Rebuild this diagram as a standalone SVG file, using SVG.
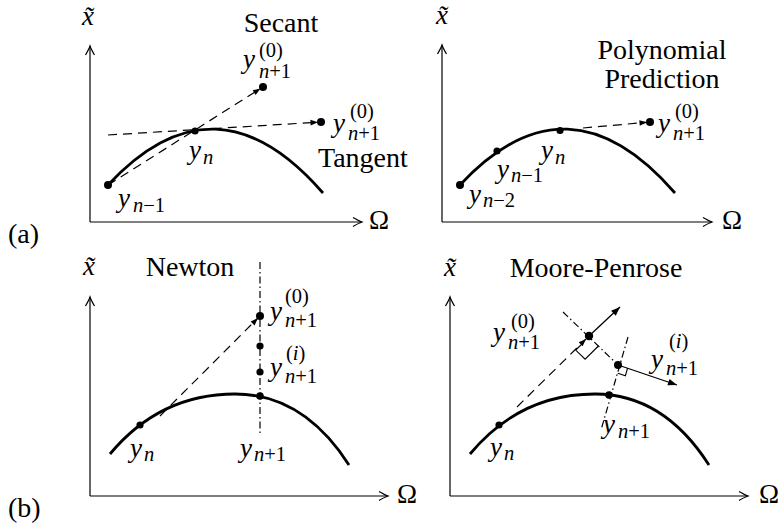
<svg xmlns="http://www.w3.org/2000/svg" width="780" height="525" viewBox="0 0 780 525">
<defs>
<style>
.bg{fill:#fff}
.ax{fill:none;stroke:#000;stroke-width:1.2;marker-end:url(#axh)}
.cv{fill:none;stroke:#000;stroke-width:2.8;stroke-linecap:butt}
.ds{fill:none;stroke:#000;stroke-width:1.2;stroke-dasharray:9 6;marker-end:url(#ah)}
.dd{fill:none;stroke:#000;stroke-width:1.2;stroke-dasharray:7 3 1.5 3}
.sa{fill:none;stroke:#000;stroke-width:1.3;marker-end:url(#ah2)}
.ra{fill:none;stroke:#000;stroke-width:1.1}
.pt{fill:#000}
text{font-family:'Liberation Serif','Times New Roman',serif;fill:#000}
.m{font-style:italic;font-size:27px}
.s{font-size:20.5px}
.t{font-size:28px}
.o{font-size:27px}
</style>
<marker id="axh" viewBox="-10 -6 12 12" refX="0" refY="0" markerWidth="12" markerHeight="12" markerUnits="userSpaceOnUse" orient="auto" overflow="visible">
<path d="M-9,-4.5 Q-3,-1 0,0 Q-3,1 -9,4.5" fill="none" stroke="#000" stroke-width="1.2"/>
</marker>
<marker id="ah" viewBox="-9 -4 10 8" refX="0" refY="0" markerWidth="10" markerHeight="8" markerUnits="userSpaceOnUse" orient="auto" overflow="visible">
<path d="M-7.5,-2.8 L0,0 L-7.5,2.8 Z" fill="#000"/>
</marker>
<marker id="ah2" viewBox="-10 -5 11 10" refX="0" refY="0" markerWidth="11" markerHeight="10" markerUnits="userSpaceOnUse" orient="auto" overflow="visible">
<path d="M-9,-3.4 L0,0 L-9,3.4 Z" fill="#000"/>
</marker>
</defs>
<rect class="bg" x="0" y="0" width="780" height="525"/>

<text id="label-a" class="t" x="8" y="243">(a)</text>
<text id="label-b" class="t" x="8" y="517">(b)</text>

<g id="panel-secant-tangent">
  <g id="tl-axes">
    <line class="ax" x1="90" y1="222" x2="90" y2="46"/>
    <line class="ax" x1="90" y1="222" x2="362" y2="222"/>
    <text class="m" x="88" y="25" text-anchor="middle">x̃</text>
    <text class="o" x="369" y="229">Ω</text>
  </g>
  <path id="tl-curve" class="cv" d="M108,185 Q215.5,69.3 323,193"/>
  <g id="tl-connectors">
    <line class="ds" x1="108" y1="185" x2="260.5" y2="88.6"/>
    <line class="ds" x1="108" y1="135" x2="318" y2="122.2"/>
  </g>
  <g id="tl-points">
    <circle class="pt" cx="108" cy="185" r="4"/>
    <circle class="pt" cx="195" cy="131" r="3.6"/>
    <circle class="pt" cx="263" cy="87" r="4"/>
    <circle class="pt" cx="321" cy="122" r="4"/>
  </g>
  <g id="tl-labels">
    <text class="t" x="281" y="32" text-anchor="middle">Secant</text>
    <text class="m" x="243" y="68">y</text>
    <text class="s" x="259" y="78"><tspan font-style="italic">n</tspan>+1</text>
    <text class="s" x="259" y="57">(0)</text>
    <text class="m" x="333" y="132">y</text>
    <text class="s" x="348" y="140"><tspan font-style="italic">n</tspan>+1</text>
    <text class="s" x="350" y="118">(0)</text>
    <text class="t" x="318" y="167">Tangent</text>
    <text class="m" x="189" y="159">y</text>
    <text class="s" x="203" y="164" font-style="italic">n</text>
    <text class="m" x="118" y="207">y</text>
    <text class="s" x="133" y="212"><tspan font-style="italic">n</tspan>−1</text>
  </g>
</g>

<g id="panel-polynomial">
  <g id="tr-axes">
    <line class="ax" x1="442" y1="222" x2="442" y2="45"/>
    <line class="ax" x1="442" y1="222" x2="712" y2="222"/>
    <text class="m" x="442" y="24" text-anchor="middle">x̃</text>
    <text class="o" x="722" y="229">Ω</text>
  </g>
  <path id="tr-curve" class="cv" d="M460,185 Q567.5,69.3 675,193"/>
  <g id="tr-connectors">
    <line class="ds" x1="583" y1="128" x2="647" y2="122.3"/>
  </g>
  <g id="tr-points">
    <circle class="pt" cx="460" cy="185" r="4"/>
    <circle class="pt" cx="497" cy="151" r="3.6"/>
    <circle class="pt" cx="560" cy="130.5" r="3.6"/>
    <circle class="pt" cx="650" cy="122" r="4"/>
  </g>
  <g id="tr-labels">
    <text class="t" x="662" y="59" text-anchor="middle">Polynomial</text>
    <text class="t" x="662" y="88" text-anchor="middle">Prediction</text>
    <text class="m" x="658" y="132">y</text>
    <text class="s" x="673" y="140"><tspan font-style="italic">n</tspan>+1</text>
    <text class="s" x="675" y="118">(0)</text>
    <text class="m" x="541" y="159">y</text>
    <text class="s" x="555" y="164" font-style="italic">n</text>
    <text class="m" x="497" y="178">y</text>
    <text class="s" x="511" y="182"><tspan font-style="italic">n</tspan>−1</text>
    <text class="m" x="469" y="203">y</text>
    <text class="s" x="483" y="207"><tspan font-style="italic">n</tspan>−2</text>
  </g>
</g>

<g id="panel-newton">
  <g id="bl-axes">
    <line class="ax" x1="90" y1="496" x2="90" y2="297"/>
    <line class="ax" x1="90" y1="496" x2="388" y2="496"/>
    <text class="m" x="89" y="275" text-anchor="middle">x̃</text>
    <text class="o" x="397" y="503">Ω</text>
  </g>
  <path id="bl-curve" class="cv" d="M110,454 C150,406 195,394 235,394 C275,394 315,412 349,465"/>
  <g id="bl-connectors">
    <line class="dd" x1="260" y1="262" x2="260" y2="435"/>
    <line class="ds" x1="160" y1="416" x2="257.9" y2="318.1"/>
  </g>
  <g id="bl-points">
    <circle class="pt" cx="140" cy="425" r="3.6"/>
    <circle class="pt" cx="260" cy="316" r="4"/>
    <circle class="pt" cx="260" cy="346" r="3.6"/>
    <circle class="pt" cx="260" cy="372" r="3.6"/>
    <circle class="pt" cx="260" cy="396" r="3.8"/>
  </g>
  <g id="bl-labels">
    <text class="t" x="190" y="276" text-anchor="middle">Newton</text>
    <text class="m" x="270" y="320">y</text>
    <text class="s" x="285" y="327"><tspan font-style="italic">n</tspan>+1</text>
    <text class="s" x="285" y="303">(0)</text>
    <text class="m" x="270" y="376">y</text>
    <text class="s" x="285" y="383"><tspan font-style="italic">n</tspan>+1</text>
    <text class="s" x="286" y="360">(<tspan font-style="italic">i</tspan>)</text>
    <text class="m" x="130" y="457">y</text>
    <text class="s" x="144" y="461" font-style="italic">n</text>
    <text class="m" x="240" y="457">y</text>
    <text class="s" x="254" y="461"><tspan font-style="italic">n</tspan>+1</text>
  </g>
</g>

<g id="panel-moore-penrose">
  <g id="br-axes">
    <line class="ax" x1="450" y1="496" x2="450" y2="297"/>
    <line class="ax" x1="450" y1="496" x2="748" y2="496"/>
    <text class="m" x="450" y="276" text-anchor="middle">x̃</text>
    <text class="o" x="759" y="503">Ω</text>
  </g>
  <path id="br-curve" class="cv" d="M470,454 C510,406 555,394 595,394 C635,394 675,412 709,465"/>
  <g id="br-connectors">
    <line class="ds" x1="517" y1="407" x2="586" y2="339"/>
    <line class="dd" x1="563" y1="312" x2="618" y2="365"/>
    <line class="dd" x1="628" y1="337" x2="601" y2="430"/>
    <line class="sa" x1="589" y1="336" x2="620" y2="307"/>
    <line class="sa" x1="618" y1="365" x2="677" y2="385"/>
    <polyline class="ra" points="583,343 575.7,350.1 585.1,359.2 598.4,346"/>
    <polyline class="ra" points="627.6,368 625.4,375.7 617.8,373.2"/>
  </g>
  <g id="br-points">
    <circle class="pt" cx="499" cy="425" r="3.6"/>
    <circle class="pt" cx="589" cy="336" r="4.2"/>
    <circle class="pt" cx="618" cy="365" r="4"/>
    <circle class="pt" cx="609" cy="395" r="3.8"/>
  </g>
  <g id="br-labels">
    <text class="t" x="596" y="277" text-anchor="middle">Moore-Penrose</text>
    <text class="m" x="493" y="341">y</text>
    <text class="s" x="508" y="349"><tspan font-style="italic">n</tspan>+1</text>
    <text class="s" x="511" y="328">(0)</text>
    <text class="m" x="651" y="368">y</text>
    <text class="s" x="666" y="375"><tspan font-style="italic">n</tspan>+1</text>
    <text class="s" x="669" y="348">(<tspan font-style="italic">i</tspan>)</text>
    <text class="m" x="603" y="433">y</text>
    <text class="s" x="618" y="438"><tspan font-style="italic">n</tspan>+1</text>
    <text class="m" x="490" y="456">y</text>
    <text class="s" x="504" y="460" font-style="italic">n</text>
  </g>
</g>
</svg>
